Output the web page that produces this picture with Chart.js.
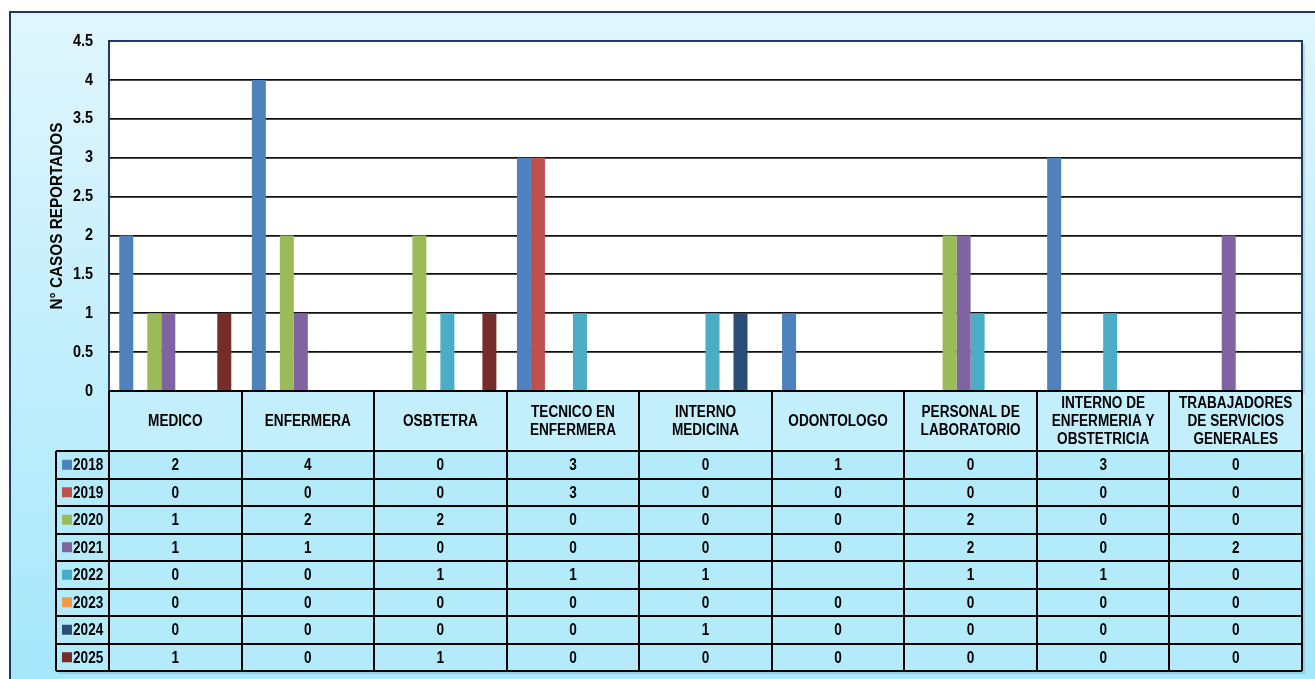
<!DOCTYPE html>
<html>
<head>
<meta charset="utf-8">
<script src="https://cdn.jsdelivr.net/npm/chart.js@4"></script>
<style>
  html, body { margin: 0; padding: 0; background: #fff; }
  #wrap { width: 1315px; height: 679px; }
</style>
</head>
<body>
<div id="wrap"><canvas id="chart" width="1315" height="679"></canvas></div>
<script>
// categories (header rows of the table, split per line)
const categories = [
  ['MEDICO'],
  ['ENFERMERA'],
  ['OSBTETRA'],
  ['TECNICO EN', 'ENFERMERA'],
  ['INTERNO', 'MEDICINA'],
  ['ODONTOLOGO'],
  ['PERSONAL DE', 'LABORATORIO'],
  ['INTERNO DE', 'ENFERMERIA Y', 'OBSTETRICIA'],
  ['TRABAJADORES', 'DE SERVICIOS', 'GENERALES']
];

const years = ['2018', '2019', '2020', '2021', '2022', '2023', '2024', '2025'];

const y2018 = [2, 4, 0, 3, 0, 1, 0, 3, 0];
const y2019 = [0, 0, 0, 3, 0, 0, 0, 0, 0];
const y2020 = [1, 2, 2, 0, 0, 0, 2, 0, 0];
const y2021 = [1, 1, 0, 0, 0, 0, 2, 0, 2];
const y2022 = [0, 0, 1, 1, 1, null, 1, 1, 0];
const y2023 = [0, 0, 0, 0, 0, 0, 0, 0, 0];
const y2024 = [0, 0, 0, 0, 1, 0, 0, 0, 0];
const y2025 = [1, 0, 1, 0, 0, 0, 0, 0, 0];

const yTicks = [0, 0.5, 1, 1.5, 2, 2.5, 3, 3.5, 4, 4.5];

const seriesColors = ['#4F81BD', '#C0504D', '#9BBB59', '#8064A2', '#4BACC6', '#F79646', '#2C4D75', '#772C2A'];
const seriesValues = [y2018, y2019, y2020, y2021, y2022, y2023, y2024, y2025];

// use a condensed face when one is installed, otherwise squeeze the regular one
const probe = document.createElement('canvas').getContext('2d');
probe.font = 'bold 16px "Liberation Sans Narrow", monospace';
const wNarrow = probe.measureText('MEDICO ENFERMERA').width;
probe.font = 'bold 16px monospace';
const wMono = probe.measureText('MEDICO ENFERMERA').width;
const hasNarrow = Math.abs(wNarrow - wMono) > 2;
const FAMILY = hasNarrow ? '"Liberation Sans Narrow"' : '"Liberation Sans"';
const SQUEEZE = hasNarrow ? 1 : 0.85;

function drawText(ctx, text, x, y, align, squeeze) {
  ctx.save();
  ctx.translate(x, y);
  ctx.scale(squeeze || SQUEEZE, 1);
  ctx.textAlign = align || 'center';
  ctx.textBaseline = 'middle';
  ctx.fillText(text, 0, 0);
  ctx.restore();
}

const TABLE_TOP = 391;
const HEADER_H = 60;
const ROW_H = 27.5;
const LEGEND_LEFT = 56;

// frame, gradient background and plot area
const backdrop = {
  id: 'backdrop',
  beforeDraw(chart) {
    const ctx = chart.ctx;
    ctx.save();
    ctx.fillStyle = '#ffffff';
    ctx.fillRect(0, 0, chart.width, chart.height);
    const g = ctx.createLinearGradient(0, 11, 0, chart.height);
    g.addColorStop(0, '#e0f6fd');
    g.addColorStop(1, '#a6e7fb');
    ctx.fillStyle = g;
    ctx.fillRect(9, 11, chart.width, chart.height);
    ctx.strokeStyle = '#1f3864';
    ctx.lineWidth = 2;
    ctx.beginPath();
    ctx.moveTo(10, chart.height + 2);
    ctx.lineTo(10, 12);
    ctx.lineTo(chart.width + 2, 12);
    ctx.stroke();
    const a = chart.chartArea;
    ctx.fillStyle = 'rgba(0,0,0,0.12)';
    ctx.fillRect(a.left + 3, a.top + 3, a.right - a.left, a.bottom - a.top);
    ctx.fillStyle = '#ffffff';
    ctx.fillRect(a.left, a.top, a.right - a.left, a.bottom - a.top);
    ctx.restore();
  },
  afterDatasetsDraw(chart) {
    const ctx = chart.ctx;
    const a = chart.chartArea;
    ctx.save();
    ctx.strokeStyle = '#1f3864';
    ctx.lineWidth = 2;
    ctx.strokeRect(a.left, a.top, a.right - a.left, a.bottom - a.top);
    ctx.restore();
  }
};

// y tick labels and axis title, drawn squeezed
const axisText = {
  id: 'axisText',
  afterDraw(chart) {
    const ctx = chart.ctx;
    const y = chart.scales.y;
    const a = chart.chartArea;
    ctx.save();
    ctx.fillStyle = '#000000';
    ctx.font = 'bold 17px ' + FAMILY;
    yTicks.forEach(v => drawText(ctx, String(v), 93, y.getPixelForValue(v), 'right'));
    ctx.font = 'bold 17px ' + FAMILY;
    ctx.translate(57, (a.top + a.bottom) / 2);
    ctx.rotate(-Math.PI / 2);
    drawText(ctx, 'N° CASOS REPORTADOS', 0, 0, 'center', hasNarrow ? 1 : 0.9);
    ctx.restore();
  }
};

// data table under the plot
const dataTable = {
  id: 'dataTable',
  afterDraw(chart) {
    const ctx = chart.ctx;
    const x = chart.scales.x;
    const a = chart.chartArea;
    const colW = (a.right - a.left) / categories.length;
    const bodyTop = TABLE_TOP + HEADER_H;
    const bodyBottom = bodyTop + ROW_H * years.length;
    ctx.save();

    ctx.fillStyle = '#c3eefc';
    ctx.fillRect(a.left, TABLE_TOP, a.right - a.left, HEADER_H);
    ctx.fillStyle = 'rgba(0,0,0,0.10)';
    ctx.fillRect(LEGEND_LEFT + 3, bodyTop + 3, a.right - LEGEND_LEFT, bodyBottom - bodyTop);
    ctx.fillStyle = '#b4ebfb';
    ctx.fillRect(LEGEND_LEFT, bodyTop, a.right - LEGEND_LEFT, bodyBottom - bodyTop);

    ctx.strokeStyle = '#000000';
    ctx.lineWidth = 2;
    ctx.beginPath();
    for (let i = 0; i <= categories.length; i++) {
      const cx = Math.round(a.left + i * colW);
      ctx.moveTo(cx, TABLE_TOP);
      ctx.lineTo(cx, bodyBottom);
    }
    ctx.moveTo(LEGEND_LEFT, bodyTop);
    ctx.lineTo(LEGEND_LEFT, bodyBottom);
    for (let r = 0; r <= years.length; r++) {
      const ry = Math.round(bodyTop + r * ROW_H);
      ctx.moveTo(LEGEND_LEFT, ry);
      ctx.lineTo(a.right, ry);
    }
    ctx.moveTo(a.left, TABLE_TOP);
    ctx.lineTo(a.right, TABLE_TOP);
    ctx.stroke();

    ctx.fillStyle = '#000000';
    ctx.font = 'bold 16px ' + FAMILY;

    categories.forEach((lines, i) => {
      const cx = x.getPixelForValue(i);
      const lh = 18;
      const y0 = TABLE_TOP + HEADER_H / 2 - (lines.length - 1) * lh / 2 + 1;
      lines.forEach((t, k) => drawText(ctx, t, cx, y0 + k * lh));
    });

    years.forEach((yr, r) => {
      const cy = bodyTop + r * ROW_H + ROW_H / 2;
      ctx.fillStyle = seriesColors[r];
      ctx.fillRect(62, cy - 5, 10, 10);
      ctx.fillStyle = '#000000';
      drawText(ctx, yr, 73, cy + 1, 'left');
      seriesValues[r].forEach((v, i) => {
        if (v === null) return;
        drawText(ctx, String(v), x.getPixelForValue(i), cy + 1);
      });
    });
    ctx.restore();
  }
};

const datasets = years.map((yr, i) => ({
  label: yr,
  data: seriesValues[i],
  backgroundColor: seriesColors[i],
  borderWidth: 0,
  categoryPercentage: 0.845,
  barPercentage: 1.0
}));

new Chart(document.getElementById('chart'), {
  type: 'bar',
  data: {
    labels: categories.map(c => c.join(' ')),
    datasets: datasets
  },
  options: {
    responsive: false,
    animation: false,
    layout: { padding: { left: 40, top: 41, right: 13, bottom: 679 - TABLE_TOP } },
    plugins: {
      legend: { display: false },
      tooltip: { enabled: false }
    },
    scales: {
      x: { display: false },
      y: {
        min: 0,
        max: 4.5,
        afterFit(scale) { scale.width = 69; },
        afterBuildTicks(scale) { scale.ticks = yTicks.map(v => ({ value: v })); },
        ticks: { display: false },
        grid: {
          color: '#111111',
          lineWidth: 1.7,
          drawTicks: false
        },
        border: { display: false },
        title: { display: false }
      }
    }
  },
  plugins: [backdrop, axisText, dataTable]
});
</script>
</body>
</html>
